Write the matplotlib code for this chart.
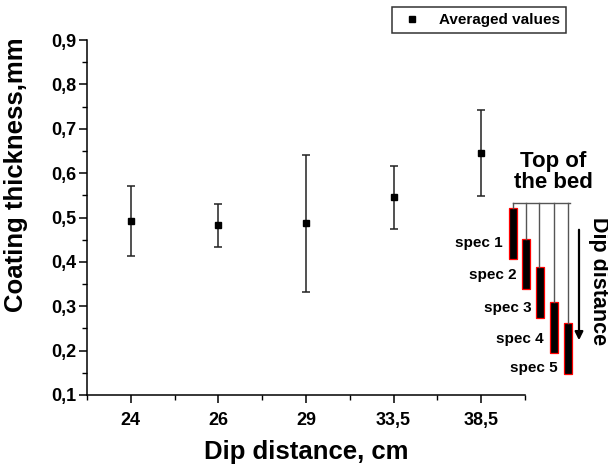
import matplotlib
matplotlib.use('Agg')
import matplotlib.pyplot as plt
from matplotlib.patches import Rectangle
from matplotlib.lines import Line2D
from matplotlib.ticker import MultipleLocator, FixedLocator

plt.rcParams['font.family'] = ['Liberation Sans', 'DejaVu Sans']
plt.rcParams['font.weight'] = 'bold'

# data
distances = ['24', '26', '29', '33,5', '38,5']
means = [0.493, 0.484, 0.488, 0.546, 0.646]
err_low = [0.413, 0.434, 0.332, 0.474, 0.548]
err_high = [0.572, 0.530, 0.640, 0.615, 0.743]

pos = list(range(1, len(distances) + 1))
yerr = [[m - lo for m, lo in zip(means, err_low)],
        [hi - m for m, hi in zip(means, err_high)]]

fig = plt.figure(figsize=(6.08, 4.68), dpi=100)
ax = fig.add_axes([87 / 608, 73 / 468, 438 / 608, 355 / 468])

ax.errorbar(pos, means, yerr=yerr, fmt='s', color='black', ms=4.8,
            ecolor='#222222', elinewidth=1.1, capsize=3, capthick=1.1)

ax.set_xlim(0.5, 5.5)
ax.set_ylim(0.1, 0.9)
ax.xaxis.set_major_locator(FixedLocator(pos))
ax.xaxis.set_minor_locator(FixedLocator([p + 0.5 for p in range(0, 6)]))
ax.set_xticklabels(distances)
ax.yaxis.set_major_locator(MultipleLocator(0.1))
ax.yaxis.set_minor_locator(MultipleLocator(0.05))
ax.yaxis.set_major_formatter(lambda v, p: ('%.1f' % v).replace('.', ','))

for s in ['top', 'right']:
    ax.spines[s].set_visible(False)
for s in ['left', 'bottom']:
    ax.spines[s].set_linewidth(1.1)
ax.tick_params(which='major', direction='out', length=6, width=1.1, labelsize=13)
ax.tick_params(which='minor', direction='out', length=3.5, width=1)
ax.tick_params(axis='x', which='major', pad=6)
ax.tick_params(axis='y', which='major', pad=2)
for lbl in ax.get_xticklabels() + ax.get_yticklabels():
    lbl.set_fontweight('bold')

ax.set_xlabel('Dip distance, cm', fontsize=18.5, fontweight='bold', labelpad=8)
ax.set_ylabel('Coating thickness,mm', fontsize=18.5, fontweight='bold')
ax.yaxis.set_label_coords(-0.135, 0.62)

handle = Line2D([], [], marker='s', color='black', ls='none', ms=5)
leg = ax.legend([handle], ['Averaged values'], loc='upper left',
                bbox_to_anchor=(392 / 608, 1 - 7 / 468),
                bbox_transform=fig.transFigure, borderaxespad=0, fancybox=False,
                frameon=True, edgecolor='black', handlelength=1.8,
                handletextpad=0.9, borderpad=0.4, prop={'size': 11, 'weight': 'bold'})
leg.get_frame().set_linewidth(1.1)

# sketch of the specimens in the bed (decoration, in figure pixels)
ov = fig.add_axes([0, 0, 1, 1], zorder=5)
ov.set_xlim(0, 608)
ov.set_ylim(468, 0)
ov.axis('off')
ov.patch.set_alpha(0)

ov.text(553, 172, 'Top of\nthe bed', ha='center', va='center', fontsize=16,
        fontweight='bold', linespacing=1.05)
ov.plot([513, 570], [203, 203], color='#555555', lw=1)
bars = [(509, 208, 259), (522, 239, 289), (536, 267, 318), (550, 302, 353), (564, 323, 374)]
lines_x = [513, 526, 539, 554, 568]
lbl_pos = [(503, 243), (517, 275), (532, 308), (544, 339), (558, 368)]
for i, ((bx, y0, y1), lx, (tx, ty)) in enumerate(zip(bars, lines_x, lbl_pos)):
    ov.plot([lx, lx], [203, y0], color='#555555', lw=1)
    ov.add_patch(Rectangle((bx, y0), 8, y1 - y0, facecolor='black', edgecolor='red', lw=0.9))
    ov.text(tx, ty, 'spec %d' % (i + 1), ha='right', va='center', fontsize=11, fontweight='bold')

ov.annotate('', xy=(579, 343), xytext=(579, 227),
            arrowprops=dict(arrowstyle='-|>', color='black', lw=1.6, mutation_scale=12))
ov.text(598, 281, 'Dip distance', rotation=-90, ha='center', va='center',
        fontsize=15.5, fontweight='bold')

fig.savefig('out.png', dpi=100)
